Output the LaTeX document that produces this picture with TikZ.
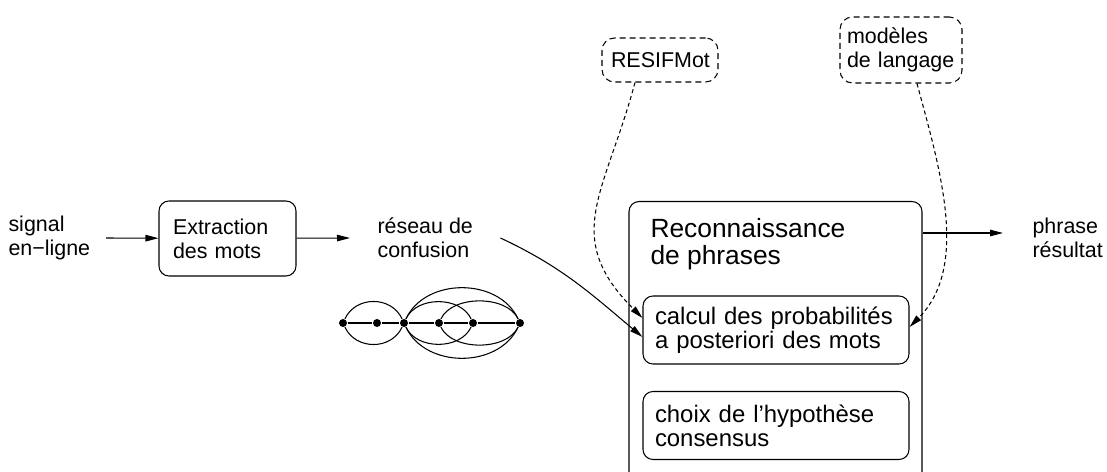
\documentclass[tikz,border=0pt]{standalone}
\usepackage{fontspec}
\setmainfont{Liberation Sans}
\usetikzlibrary{arrows.meta}
\begin{document}
\begin{tikzpicture}[
    line width=0.6pt,
    >={Triangle[length=2.6mm,width=1.3mm]},
    small/.style={font=\fontsize{12.2}{13.7}\selectfont},
    txt/.style={small, inner sep=0pt, align=left},
    box/.style={draw, rounded corners=0.2cm, inner ysep=0pt, align=left},
    inbox/.style={box, inner xsep=0.24cm, text width=4.84cm, minimum height=1.36cm, font=\fontsize{13.6}{13.8}\selectfont},
    extbox/.style={small, draw, dash pattern=on 1.2mm off 0.8mm, rounded corners=0.25cm, inner ysep=0pt, align=left},
    dot/.style={circle, fill, inner sep=0pt, minimum size=0.16cm},
    feed/.style={->, dash pattern=on 0.8mm off 0.6mm},
]
    \useasboundingbox (0,0) rectangle (22.14,9.44);
    \clip (0,0) rectangle (22.14,9.44);

    \node[txt, anchor=west] (signal) at (0.16,4.68) {signal\\en−ligne};
    \node[box, small, inner xsep=0.28cm, text width=2.18cm, minimum height=1.5cm] (extr) at (4.55,4.67) {Extraction\\des mots};
    \node[txt, anchor=west] (reseau) at (7.54,4.68) {réseau de\\confusion};
    \node[txt, anchor=west] (phrase) at (20.64,4.68) {phrase\\résultat};

    \node[box, minimum width=5.86cm, minimum height=7cm, anchor=north] (reco) at (15.51,5.42) {};
    \node[txt, font=\fontsize{15}{15.4}\selectfont, anchor=north west] (title) at (13.0,5.08) {Reconnaissance\\de phrases};
    \node[inbox] (calc) at (15.52,2.84) {calcul des probabilités\\a posteriori des mots};
    \node[inbox] (choix) at (15.52,0.93) {choix de l’hypothèse\\consensus};

    \node[extbox, inner xsep=0.18cm, text width=1.96cm, minimum height=0.88cm] (resif) at (13.2,8.24) {RESIFMot};
    \node[extbox, inner xsep=0.14cm, text width=2.16cm, minimum height=1.32cm] (lang) at (18.02,8.44) {modèles\\de langage};

    % confusion network
    \node[dot] (n1) at (6.86,2.98) {};
    \node[dot] (n2) at (7.54,2.98) {};
    \node[dot] (n3) at (8.08,2.98) {};
    \node[dot] (n4) at (8.78,2.98) {};
    \node[dot] (n5) at (9.46,2.98) {};
    \node[dot] (n6) at (10.4,2.98) {};

    \draw (n1) -- (n2) -- (n3) -- (n4) -- (n5) -- (n6);
    \draw (n1) to[out=65,in=115,looseness=1.15] (n3);
    \draw (n1) to[out=-65,in=-115,looseness=1.15] (n3);
    \draw (n3) to[out=65,in=115,looseness=1.0] (n5);
    \draw (n3) to[out=-65,in=-115,looseness=1.0] (n5);
    \draw (n3) to[out=65,in=115,looseness=1.05] (n6);
    \draw (n3) to[out=-65,in=-115,looseness=1.05] (n6);
    \draw (n4) to[out=65,in=115,looseness=0.88] (n6);
    \draw (n4) to[out=-65,in=-115,looseness=0.88] (n6);

    \coordinate (outpt) at ([yshift=0.1cm]phrase.west);

    \draw[->] ([xshift=0.31cm]signal.east) -- (extr);
    \draw[->] (extr) -- ([xshift=-0.54cm]reseau.west);
    \draw[->] ([xshift=0.54cm]reseau.east) to[out=-25,in=140] ([yshift=-0.14cm]calc.west);
    \draw[->] (reco.east |- outpt) -- ([xshift=-0.58cm]outpt);

    \draw[feed] ([xshift=-0.5cm]resif.south) to[out=-105,in=135,looseness=1.25] ([yshift=0.24cm]calc.west);
    \draw[feed] ([xshift=0.32cm]lang.south) to[out=-75,in=45,looseness=0.9] ([yshift=0.06cm]calc.east);
\end{tikzpicture}
\end{document}
